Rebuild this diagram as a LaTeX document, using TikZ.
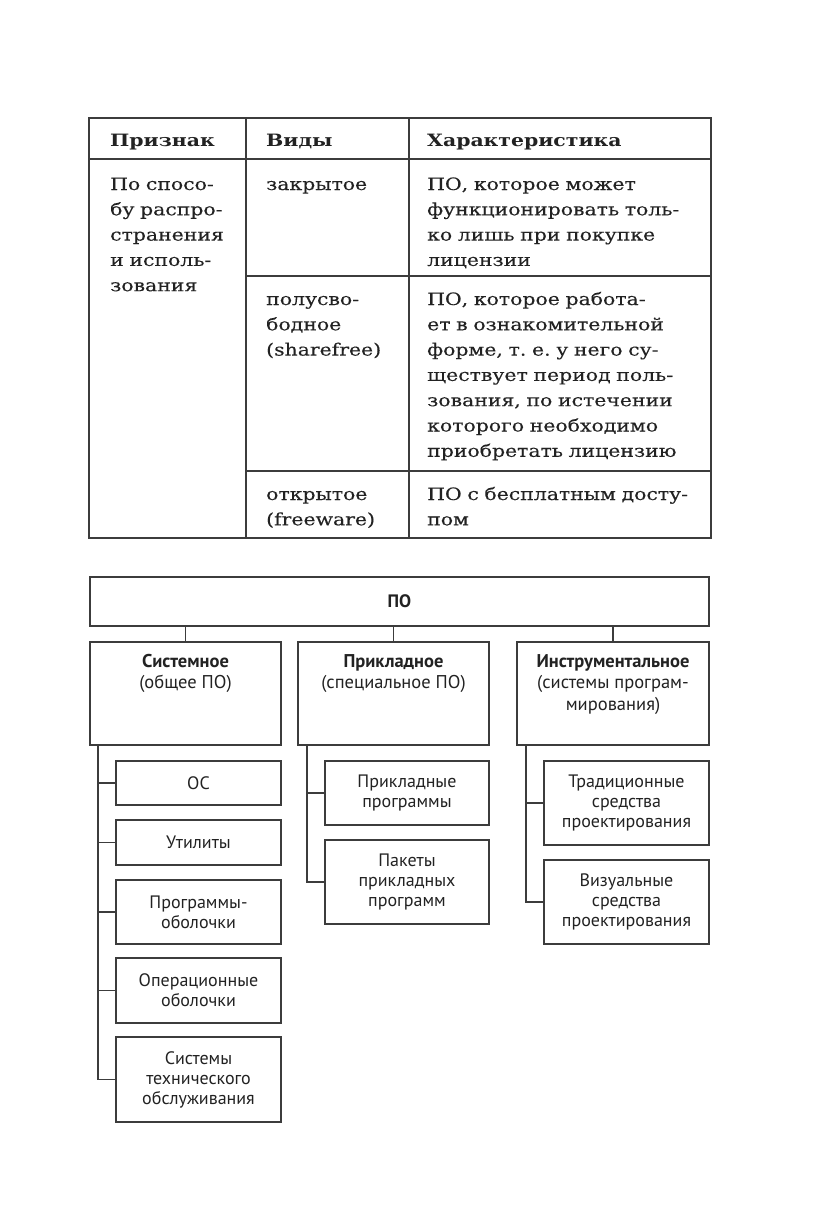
\documentclass[tikz,border=0pt]{standalone}
\usepackage{fontspec}
\setmainfont{DejaVu Serif}
\newfontfamily\tblfont[FakeStretch=1.2,FakeBold=0.25]{DejaVu Serif}
\newfontfamily\tblbold[FakeStretch=1.2]{DejaVu Serif Bold}
\newfontfamily\dgfont{PT Sans}
\frenchspacing
\definecolor{ink}{HTML}{222222}
\definecolor{rule}{HTML}{3C3C3C}
\tikzset{
  tline/.style={line width=1.6pt, draw=rule},
  ttext/.style={anchor=base west, inner sep=0pt, text width=300pt, align=left,
    font=\tblfont\fontsize{17}{25.3}\selectfont, text=ink},
  thead/.style={ttext, font=\tblbold\fontsize{17}{25.3}\selectfont},
  dbox/.style={draw=rule, line width=1.6pt, inner sep=0pt, align=center,
    font=\dgfont\fontsize{18}{20}\selectfont, text=ink},
  dtext/.style={anchor=north, inner sep=0pt, align=center,
    font=\dgfont\fontsize{18.5}{21.5}\selectfont, text=ink},
  conn/.style={draw=rule, line width=1.6pt},
}
\begin{document}
\begin{tikzpicture}[x=1pt,y=-1pt]
\useasboundingbox (0,0) rectangle (816,1221);
% ---------- table ----------
\draw[tline] (89,118) rectangle (711,538);
\draw[tline] (89,159) -- (711,159);
\draw[tline] (246,118) -- (246,538);
\draw[tline] (409,118) -- (409,538);
\draw[tline] (246,276) -- (711,276);
\draw[tline] (246,471) -- (711,471);

\node[thead] (h1) at (110,146) {Признак};
\node[thead] (h2) at (266,146) {Виды};
\node[thead] (h3) at (427,146) {Характеристика};

\node[ttext] (p1) at (110,190) {По спосо-\\бу распро-\\странения\\и исполь-\\зования};
\node[ttext] (v1) at (266,190) {закрытое};
\node[ttext] (x1) at (427,190) {ПО, которое может\\функционировать толь-\\ко лишь при покупке\\лицензии};
\node[ttext] (v2) at (266,305) {полусво-\\бодное\\(sharefree)};
\node[ttext] (x2) at (427,305) {ПО, которое работа-\\ет в ознакомительной\\форме, т.~е. у него су-\\ществует период поль-\\зования, по истечении\\которого необходимо\\приобретать лицензию};
\node[ttext] (v3) at (266,500) {открытое\\(freeware)};
\node[ttext] (x3) at (427,500) {ПО с бесплатным досту-\\пом};

% ---------- diagram ----------
\node[dbox, minimum width=619pt, minimum height=49pt] (po) at (399.5,601.5) {\bfseries ПО};

\node[dbox, minimum width=191pt, minimum height=103pt] (s1) at (185.5,693.5) {};
\node[dbox, minimum width=191pt, minimum height=103pt] (s2) at (393.5,693.5) {};
\node[dbox, minimum width=192pt, minimum height=103pt] (s3) at (613,693.5) {};
\node[dtext] (s1t) at (185.5,654) {\textbf{Системное}\\(общее ПО)};
\node[dtext] (s2t) at (393.5,654) {\textbf{Прикладное}\\(специальное ПО)};
\node[dtext] (s3t) at (613,654) {\textbf{Инструментальное}\\(системы програм-\\мирования)};

\draw[conn] (s1.north) -- (s1.north |- po.south);
\draw[conn] (s2.north) -- (s2.north |- po.south);
\draw[conn] (s3.north) -- (s3.north |- po.south);

% children of s1
\node[dbox, minimum width=165pt, minimum height=44pt] (c11) at (198.5,783) {ОС};
\node[dbox, minimum width=165pt, minimum height=45pt] (c12) at (198.5,842.5) {Утилиты};
\node[dbox, minimum width=165pt, minimum height=64pt] (c13) at (198.5,912) {Программы-\\оболочки};
\node[dbox, minimum width=165pt, minimum height=65pt] (c14) at (198.5,990.5) {Операционные\\оболочки};
\node[dbox, minimum width=165pt, minimum height=85pt] (c15) at (198.5,1079.5) {Системы\\технического\\обслуживания};
% children of s2
\node[dbox, minimum width=164pt, minimum height=64pt] (c21) at (407,793) {Прикладные\\программы};
\node[dbox, minimum width=164pt, minimum height=84pt] (c22) at (407,882) {Пакеты\\прикладных\\программ};
% children of s3
\node[dbox, minimum width=165pt, minimum height=84pt] (c31) at (626.5,803) {Традиционные\\средства\\проектирования};
\node[dbox, minimum width=165pt, minimum height=84pt] (c32) at (626.5,902) {Визуальные\\средства\\проектирования};

\coordinate (sp1) at ([xshift=9pt]s1.south west);
\coordinate (sp2) at ([xshift=10pt]s2.south west);
\coordinate (sp3) at ([xshift=10pt]s3.south west);

\draw[conn] (sp1) |- (c15.west);
\draw[conn] (sp1 |- c11.west) -- (c11.west);
\draw[conn] (sp1 |- c12.west) -- (c12.west);
\draw[conn] (sp1 |- c13.west) -- (c13.west);
\draw[conn] (sp1 |- c14.west) -- (c14.west);

\draw[conn] (sp2) |- (c22.west);
\draw[conn] (sp2 |- c21.west) -- (c21.west);

\draw[conn] (sp3) |- (c32.west);
\draw[conn] (sp3 |- c31.west) -- (c31.west);
\end{tikzpicture}
\end{document}
